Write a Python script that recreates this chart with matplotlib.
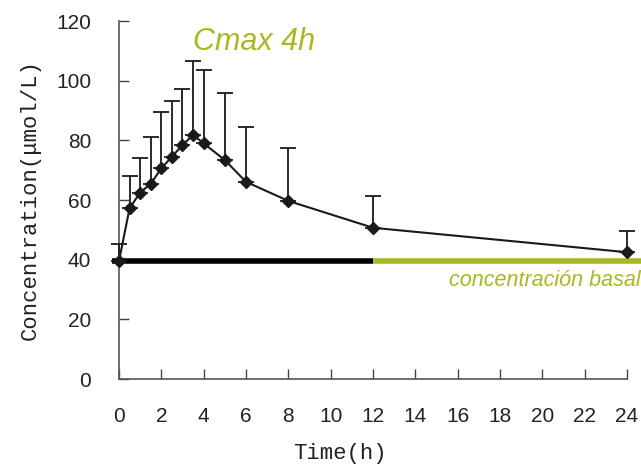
import matplotlib
matplotlib.use("Agg")
import matplotlib.pyplot as plt

# Concentration-time data
time_h = [0, 0.5, 1, 1.5, 2, 2.5, 3, 3.5, 4, 5, 6, 8, 12, 24]
conc_mean = [39.5, 57.2, 62.5, 65.4, 70.6, 74.5, 78.4, 81.8, 79.0, 73.4, 66.1, 59.7, 50.7, 42.5]
conc_upper = [45.1, 68.0, 74.0, 81.2, 89.4, 93.2, 97.2, 106.7, 103.6, 96.0, 84.6, 77.3, 61.5, 49.6]
conc_sd = [u - m for u, m in zip(conc_upper, conc_mean)]

basal_level = 39.4
basal_black = [-0.35, 12]
basal_green = [12, 24.7]

x_ticks = list(range(0, 25, 2))
y_ticks = list(range(0, 121, 20))

OLIVE = '#a9b81e'

fig = plt.figure(figsize=(6.41, 4.67), dpi=100)
ax = fig.add_axes([0.1856, 0.1884, 0.7925, 0.7666])

# baseline (basal concentration)
ax.plot(basal_black, [basal_level] * 2, color='black', lw=4, solid_capstyle='butt',
        clip_on=False, zorder=2)
ax.plot(basal_green, [basal_level] * 2, color=OLIVE, lw=4, solid_capstyle='butt',
        clip_on=False, zorder=2)

# upper error bars only
ax.errorbar(time_h, conc_mean, yerr=[[0] * len(conc_sd), conc_sd], fmt='none',
            ecolor='#1a1a1a', elinewidth=1.3, capsize=5.5, capthick=1.3,
            clip_on=False, zorder=3)
ax.plot(time_h, conc_mean, color='#1a1a1a', lw=1.5, marker='D', markersize=6.5,
        clip_on=False, zorder=4)

ax.set_xlim(0, 24)
ax.set_ylim(0, 120)
ax.set_xticks(x_ticks)
ax.set_yticks(y_ticks)
ax.tick_params(direction='in', length=7, width=1, color='#444444', pad=20,
               labelsize=15, labelcolor='#222222')
for lab in ax.get_xticklabels() + ax.get_yticklabels():
    lab.set_family('Liberation Sans')

for side in ['top', 'right']:
    ax.spines[side].set_visible(False)
for side in ['left', 'bottom']:
    ax.spines[side].set_color('#555555')
    ax.spines[side].set_linewidth(1.2)

ax.set_xlabel('Time(h)', family='Liberation Mono', fontsize=16, color='#222222')
ax.set_ylabel('Concentration(μmol/L)', family='Liberation Mono', fontsize=16,
              color='#222222')
ax.xaxis.set_label_coords(0.435, -0.179)
ax.yaxis.set_label_coords(-0.154, 0.5)

ax.text(3.5, 110.3, 'Cmax 4h', color=OLIVE, fontsize=22, style='italic',
        family='Liberation Sans', ha='left', va='baseline', clip_on=False)
ax.text(15.6, 31.2, 'concentración basal', color=OLIVE, fontsize=15.5, style='italic',
        family='Liberation Sans', ha='left', va='baseline', clip_on=False)

fig.savefig('out.png', dpi=100, facecolor='white')
